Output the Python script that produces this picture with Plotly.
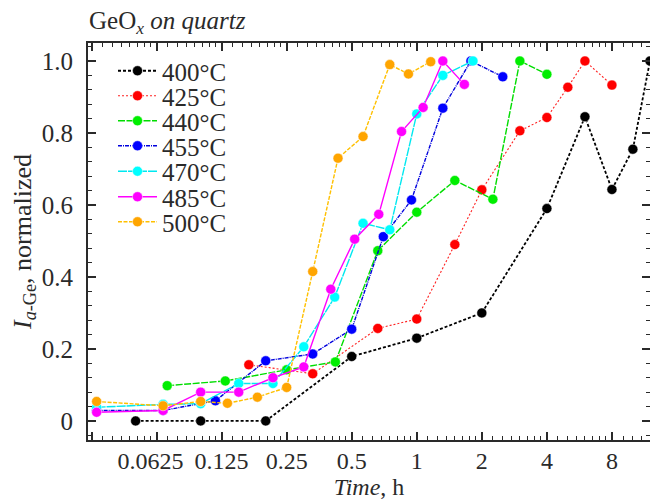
import plotly.graph_objects as go

# ---------------- data ----------------
labels = ["400°C", "425°C", "440°C", "455°C", "470°C", "485°C", "500°C"]

t_400 = [0.05, 0.1, 0.2, 0.5, 1.0, 2.0, 4.0, 6.0, 8.0, 10.0, 12.0]
v_400 = [0.0, 0.0, 0.0, 0.179, 0.23, 0.30, 0.59, 0.845, 0.643, 0.755, 1.0]

t_425 = [0.167, 0.33, 0.66, 1.0, 1.5, 2.0, 3.0, 4.0, 5.0, 6.0, 8.0]
v_425 = [0.156, 0.131, 0.257, 0.283, 0.49, 0.642, 0.806, 0.843, 0.927, 1.0, 0.933]

t_440 = [0.07, 0.13, 0.25, 0.42, 0.66, 1.0, 1.5, 2.25, 3.0, 4.0]
v_440 = [0.098, 0.111, 0.142, 0.164, 0.473, 0.58, 0.668, 0.616, 1.0, 0.963]

t_455 = [0.033, 0.067, 0.117, 0.2, 0.33, 0.5, 0.7, 0.945, 1.32, 1.78, 2.5]
v_455 = [0.029, 0.029, 0.056, 0.167, 0.186, 0.255, 0.512, 0.614, 0.869, 1.0, 0.956]

t_470 = [0.033, 0.067, 0.1, 0.15, 0.216, 0.3, 0.417, 0.564, 0.75, 1.0, 1.32, 1.82]
v_470 = [0.038, 0.046, 0.048, 0.104, 0.104, 0.206, 0.344, 0.549, 0.531, 0.853, 0.96, 1.0]

t_485 = [0.033, 0.067, 0.1, 0.15, 0.216, 0.3, 0.4, 0.516, 0.667, 0.85, 1.07, 1.32, 1.66]
v_485 = [0.024, 0.029, 0.08, 0.08, 0.12, 0.15, 0.366, 0.505, 0.574, 0.804, 0.871, 1.0, 0.935]

t_500 = [0.033, 0.067, 0.1, 0.133, 0.183, 0.25, 0.33, 0.432, 0.564, 0.75, 0.915, 1.16]
v_500 = [0.054, 0.042, 0.054, 0.049, 0.066, 0.093, 0.415, 0.73, 0.79, 0.99, 0.964, 0.998]

x_tickvals = [0.03125, 0.0625, 0.125, 0.25, 0.5, 1, 2, 4, 8]
x_ticktext = ["", "0.0625\u00a0\u00a0", "0.125", "0.25", "0.5", "1", "2", "4", "8"]
y_tickvals = [0, 0.2, 0.4, 0.6, 0.8, 1.0]
y_ticktext = ["0", "0.2", "0.4", "0.6", "0.8", "1.0"]

# ---------------- styles ----------------
series = [
    (t_400, v_400, "#000000", "#000000", 1.8, "3px,2px"),
    (t_425, v_425, "#ff0000", "#ff2020", 1.1, "2px,2px"),
    (t_440, v_440, "#00ee00", "#00dd00", 1.4, "7px,1.5px"),
    (t_455, v_455, "#0000ff", "#0000dd", 1.4, "4px,1px,1px,1px"),
    (t_470, v_470, "#00ffff", "#00e8f0", 1.4, "9px,1px"),
    (t_485, v_485, "#ff00ff", "#ff00ff", 1.4, "solid"),
    (t_500, v_500, "#ffa500", "#ffc000", 1.4, "4px,1.5px"),
]

FONT = "Liberation Serif"
TXT = "#2a2a2a"

W, H = 650, 501
ML, MR, MT, MB = 88, 0, 43, 61
plot_h = H - MT - MB
plot_w = W - ML - MR

fig = go.Figure()
legend_rows_px = [71, 96, 121, 146, 171.5, 197, 222]
legend_left_px = 113

for i, ((t, v, mc, lc, lw, dash), lab) in enumerate(zip(series, labels)):
    lname = "legend" if i == 0 else f"legend{i + 1}"
    fig.add_trace(go.Scatter(
        x=t, y=v, name=lab, mode="lines+markers",
        line=dict(color=lc, width=lw, dash=dash),
        marker=dict(color=mc, size=10, line=dict(color="rgba(255,255,255,0.8)", width=0.6)),
        legend=lname,
    ))
    fig.update_layout(**{lname: dict(
        x=(legend_left_px - ML) / plot_w,
        y=1 - (legend_rows_px[i] - MT) / plot_h,
        xanchor="left", yanchor="middle",
        bgcolor="rgba(0,0,0,0)", borderwidth=0,
        itemwidth=39,
        font=dict(family=FONT, size=25, color=TXT),
    )})

# minor ticks on the log x-axis: linear steps of 1/8 within each octave
minor_x = []
base = 0.015625
while base < 16:
    for k in range(1, 8):
        val = base * (1 + k / 8)
        if 0.0301 <= val <= 12.0:
            minor_x.append(val)
    base *= 2

axis_common = dict(
    showline=True, linecolor=TXT, linewidth=2, mirror="ticks",
    ticks="inside", tickcolor=TXT, tickwidth=1.5, ticklen=8,
    showgrid=False, zeroline=False,
)

fig.update_xaxes(
    type="log", range=[-1.5214, 1.0792],
    tickmode="array", tickvals=x_tickvals, ticktext=x_ticktext,
    tickangle=0,
    tickfont=dict(family=FONT, size=24, color=TXT),
    minor=dict(tickmode="array", tickvals=minor_x, ticks="inside", ticklen=4,
               tickcolor=TXT, tickwidth=1.2, showgrid=False),
    title=dict(text="<i>Time</i>, h", font=dict(family=FONT, size=24, color=TXT), standoff=0),
    ticklabelstandoff=-2,
    **axis_common,
)
fig.update_yaxes(
    range=[-0.053, 1.05],
    tickmode="array", tickvals=y_tickvals, ticktext=y_ticktext,
    tickfont=dict(family=FONT, size=25, color=TXT),
    minor=dict(dtick=0.04, tick0=0, ticks="inside", ticklen=4,
               tickcolor=TXT, tickwidth=1.2, showgrid=False),
    title=dict(text="<i>I</i><sub><i>a</i>-Ge</sub>, normalized",
               font=dict(family=FONT, size=26, color=TXT), standoff=3),
    ticklabelstandoff=8,
    **axis_common,
)

fig.update_layout(
    width=W, height=H,
    margin=dict(l=ML, r=MR, t=MT, b=MB, autoexpand=False),
    paper_bgcolor="white", plot_bgcolor="white",
    font=dict(family=FONT, size=24, color=TXT),
    title=dict(text="GeO<sub><i>x</i></sub> <i>on quartz</i>",
               x=89 / W, xanchor="left", xref="container",
               y=1 - 20 / H, yanchor="middle",
               font=dict(family=FONT, size=25, color=TXT)),
    showlegend=True,
)

fig.write_html(
    "out.html",
    config={"displayModeBar": False},
    post_script="document.body.style.margin='0';document.body.style.overflow='hidden';",
)
